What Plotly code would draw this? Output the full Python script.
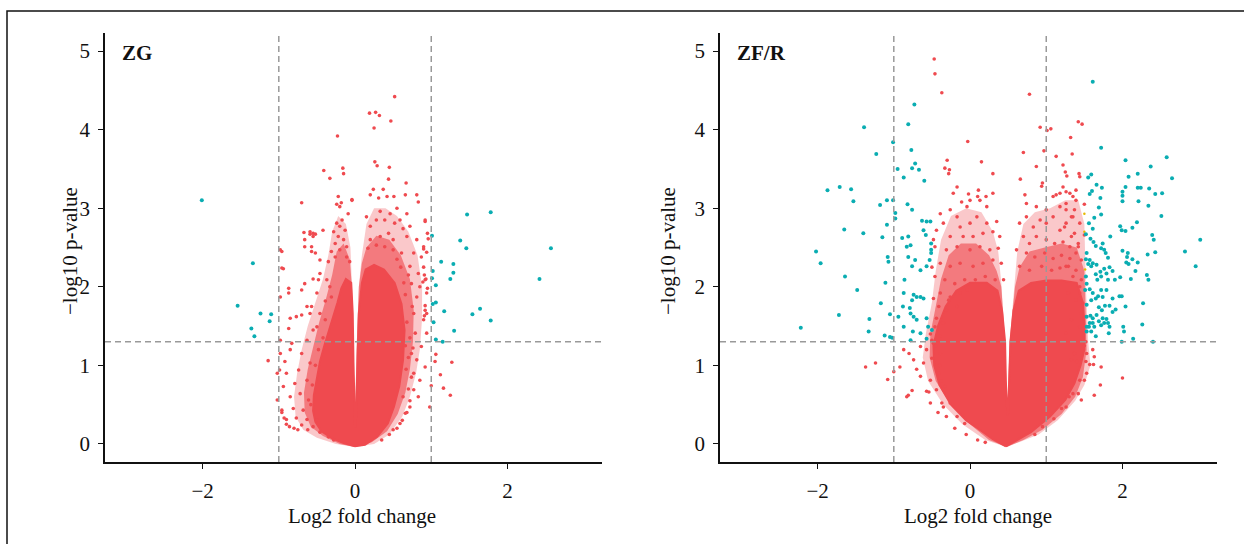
import plotly.graph_objects as go

# ---------------- data ----------------
# Solid centre of each cloud, outlined as a polygon (x = log2 FC, y = -log10 p)
ZG_core = [(0.00,-0.03),(-0.15,0.01),(-0.30,0.07),(-0.44,0.16),(-0.52,0.28),(-0.55,0.42),(-0.54,0.62),
           (-0.50,0.84),(-0.46,1.05),(-0.40,1.26),(-0.34,1.44),(-0.28,1.62),(-0.23,1.80),(-0.18,1.98),
           (-0.12,2.10),(-0.05,2.05),(-0.03,1.66),(-0.02,1.03),(-0.01,0.60),(0.00,0.22),(0.01,0.22),
           (0.02,0.60),(0.03,1.03),(0.05,1.66),(0.09,2.05),(0.14,2.22),(0.25,2.28),(0.38,2.22),(0.52,2.05),
           (0.61,1.78),(0.65,1.45),(0.63,1.07),(0.58,0.73),(0.51,0.47),(0.43,0.26),(0.29,0.09),(0.13,-0.01),
           (0.00,-0.03)]

# Dense-speckle zone around the centre
ZG_mid = [(0.00,-0.04),(-0.20,0.00),(-0.42,0.10),(-0.58,0.22),(-0.66,0.40),(-0.67,0.65),(-0.62,0.95),
          (-0.55,1.25),(-0.47,1.55),(-0.38,1.85),(-0.30,2.15),(-0.24,2.45),(-0.15,2.55),(-0.07,2.35),
          (-0.04,2.00),(-0.02,1.20),(0.00,0.30),(0.02,1.20),(0.05,2.00),(0.09,2.30),(0.15,2.50),(0.28,2.65),
          (0.45,2.60),(0.60,2.40),(0.72,2.10),(0.77,1.70),(0.76,1.30),(0.72,0.95),(0.66,0.65),(0.56,0.38),
          (0.42,0.16),(0.22,0.02),(0.00,-0.04)]

# Light-speckle zone
ZG_halo = [(0.00,-0.04),(-0.25,0.00),(-0.50,0.08),(-0.68,0.18),(-0.78,0.35),(-0.80,0.60),(-0.76,0.90),
           (-0.70,1.20),(-0.62,1.50),(-0.52,1.80),(-0.42,2.10),(-0.35,2.40),(-0.30,2.70),(-0.22,2.90),
           (-0.12,2.80),(-0.06,2.50),(-0.04,2.00),(-0.02,1.20),(0.00,0.30),(0.02,1.20),(0.05,2.00),
           (0.09,2.40),(0.15,2.80),(0.25,3.00),(0.40,3.00),(0.55,2.90),(0.70,2.70),(0.82,2.40),(0.88,2.00),
           (0.88,1.60),(0.85,1.20),(0.80,0.90),(0.72,0.60),(0.62,0.35),(0.45,0.12),(0.25,0.00),(0.00,-0.04)]

ZG_red = [(0.52,4.42),(0.19,4.21),(0.27,4.22),(0.32,4.18),(0.47,4.11),(0.25,4.02),(-0.23,3.92),(0.26,3.59),
          (0.29,3.54),(0.45,3.52),(-0.41,3.48),(-0.16,3.51),(-0.15,3.44),(-0.33,3.38),(0.44,3.37),(0.67,3.32),
          (-0.70,3.07),(-0.04,3.11),
          (0.20,3.17),(0.24,3.24),(0.31,3.13),(0.37,3.24),(0.42,3.15),(0.51,3.15),(0.55,3.00),(0.15,2.89),
          (0.20,2.77),(0.28,2.85),(0.33,2.96),(0.39,2.85),(0.46,2.93),(0.52,2.81),(0.59,2.85),(0.66,3.17),
          (0.68,2.93),(0.63,2.74),(0.72,2.77),(0.81,3.17),(0.83,3.08),(0.92,2.85),(0.44,2.68),(0.33,2.64),
          (0.20,2.60),(0.50,2.60),(0.68,2.64),(0.81,2.60),(0.90,2.51),(0.87,2.38),(0.77,2.43),(0.61,2.43),
          (0.50,2.47),(0.39,2.51),(0.28,2.53),(0.17,2.49),(0.72,2.26),(0.83,2.17),(0.92,2.09),(0.94,1.92),
          (0.92,1.70),(0.90,1.58),(0.94,1.41),(0.87,1.24),(0.81,1.07),(0.92,0.98),(0.85,0.81),(0.77,0.69),
          (0.83,0.60),(0.72,0.47),(0.66,0.39),(0.59,0.26),(0.50,0.18),(0.77,0.90),(0.74,1.15),(0.79,1.41),
          (0.77,1.66),(0.81,1.87),(0.74,2.04),(0.85,2.00),
          (0.92,2.83),(0.95,2.68),(0.96,2.61),(0.90,2.48),(0.94,2.44),(0.90,2.25),(0.91,2.15),(0.93,2.10),
          (0.89,2.06),(0.95,1.98),(0.92,1.76),(0.94,1.66),(0.91,1.63),
          (1.12,0.88),(1.00,0.74),(1.16,0.71),(0.98,0.47),(1.25,0.62),(1.05,1.05),(1.27,1.04),(1.06,1.14),
          (0.35,0.05),(0.45,0.12),(0.55,0.20),(0.62,0.30),(0.68,0.40),(0.72,0.55),(0.70,0.70),(0.74,0.85),
          (0.70,1.10),(0.76,1.22),(0.72,1.35),(0.68,1.55),(0.75,1.75),(0.66,1.90),(0.70,2.15),(0.60,2.25),
          (0.55,2.35),(0.64,2.05),(0.66,1.25),(0.67,0.95),(0.63,0.60),
          (-0.96,2.45),(-0.94,2.23),(-0.98,1.87),(-0.87,1.98),(-0.87,1.92),(-0.70,1.96),(-0.66,2.04),
          (-0.55,2.10),(-0.48,2.09),(-0.66,2.51),(-0.59,2.67),(-0.52,2.67),(-0.42,2.72),(-0.57,2.45),
          (-0.85,1.60),(-0.77,1.62),(-0.70,1.64),(-0.87,1.47),(-0.63,1.75),(-0.57,1.75),
          (-0.98,1.32),(-0.83,1.28),(-0.85,1.20),(-0.98,1.15),(-0.92,1.05),(-1.02,0.90),(-0.90,0.90),
          (-0.74,0.94),(-0.94,0.73),(-0.79,0.77),(-1.02,0.56),(-0.85,0.60),(-0.72,0.64),(-0.96,0.43),
          (-0.81,0.45),(-0.90,0.31),(-0.77,0.33),(-0.63,0.31),(-0.68,0.43),(-0.61,0.56),(-0.63,0.81),
          (-0.59,1.03),(-0.70,1.15),(-0.63,1.32),(-0.55,1.45),
          (-0.99,0.94),(-0.96,0.40),(-0.93,0.33),(-0.90,0.25),(-0.86,0.22),(-0.80,0.20),(-0.75,0.18),
          (-0.55,0.22),(-0.46,0.15),(-0.35,0.09),(-0.28,0.05),(-0.62,0.18),(-0.70,0.24),
          (-1.14,1.06),(-0.59,2.70),(-0.55,2.68),(-0.67,2.69),(-0.96,2.24),(-0.98,2.47),
          (-0.22,3.15),(-0.18,3.07),(-0.24,3.05),(-0.20,3.02),(-0.04,3.10),(-0.09,2.93),(-0.17,2.85),
          (-0.24,2.81),(-0.20,2.77),(-0.28,2.70),(-0.13,2.72),(-0.22,2.64),(-0.26,2.55),(-0.15,2.60),
          (-0.11,2.51),(-0.20,2.47),(-0.31,2.45),(-0.55,2.64),(-0.57,2.51),(-0.66,2.60),(-0.52,2.43),
          (-0.46,2.34),(-0.35,2.32),(-0.26,2.38),(-0.11,2.38),(-0.07,2.32),
          (-0.46,2.17),(-0.37,2.09),(-0.50,1.92),(-0.39,1.82),(-0.33,2.00),(-0.59,1.66),(-0.46,1.66),
          (-0.50,1.49),(-0.39,1.58),(-0.31,1.87),(-0.42,1.35),(-0.48,1.20),(-0.52,1.00),(-0.56,0.75),
          (-0.58,0.50),(-0.50,0.30)]

ZG_teal = [(-2.01,3.10),(-1.34,2.30),(-1.54,1.76),(-1.24,1.66),(-1.10,1.65),(-1.12,1.56),(-1.36,1.47),
           (-1.32,1.37),(1.47,2.92),(1.78,2.95),(1.38,2.59),(1.46,2.49),(2.57,2.49),(1.01,2.65),(1.13,2.32),
           (1.29,2.29),(1.29,2.18),(1.25,2.10),(2.42,2.10),(1.02,2.20),(1.01,2.11),(1.06,2.02),(1.06,1.80),
           (1.02,1.78),(1.17,1.69),(1.64,1.72),(1.54,1.65),(1.78,1.57),(1.03,1.55),(1.30,1.44),(1.06,1.33),
           (1.15,1.30)]

ZFR_core = [(0.47,-0.03),(0.30,0.06),(0.10,0.20),(-0.05,0.30),(-0.25,0.50),(-0.40,0.75),(-0.47,1.00),
            (-0.48,1.25),(-0.42,1.50),(-0.32,1.75),(-0.18,1.95),(0.00,2.05),(0.22,2.05),(0.36,1.95),
            (0.42,1.70),(0.46,1.30),(0.47,0.80),(0.48,0.40),(0.49,0.36),(0.50,0.40),(0.51,0.80),(0.53,1.30),
            (0.57,1.70),(0.64,1.95),(0.80,2.05),(1.00,2.08),(1.20,2.08),(1.40,2.05),(1.48,1.80),(1.50,1.50),
            (1.50,1.20),(1.45,1.00),(1.37,0.77),(1.25,0.56),(1.05,0.35),(0.80,0.15),(0.60,0.04),(0.47,-0.03)]

ZFR_mid = [(0.48,-0.04),(0.25,0.05),(0.00,0.25),(-0.25,0.50),(-0.45,0.80),(-0.53,1.10),(-0.52,1.40),
           (-0.45,1.75),(-0.38,2.10),(-0.28,2.40),(-0.12,2.55),(0.08,2.55),(0.25,2.40),(0.35,2.20),
           (0.41,2.00),(0.46,1.30),(0.49,0.40),(0.52,1.30),(0.59,2.00),(0.65,2.25),(0.78,2.45),(0.98,2.50),
           (1.20,2.55),(1.40,2.50),(1.50,2.20),(1.52,1.60),(1.53,1.20),(1.48,0.85),(1.38,0.60),(1.20,0.38),
           (0.95,0.18),(0.70,0.05),(0.48,-0.04)]

ZFR_halo = [(0.48,-0.04),(0.20,0.05),(-0.10,0.25),(-0.35,0.50),(-0.55,0.80),(-0.62,1.10),(-0.58,1.40),
            (-0.50,1.80),(-0.45,2.20),(-0.38,2.60),(-0.25,2.90),(-0.05,3.00),(0.15,2.95),(0.30,2.70),
            (0.37,2.45),(0.41,2.05),(0.46,1.30),(0.49,0.40),(0.52,1.30),(0.59,2.05),(0.62,2.45),(0.70,2.80),
            (0.85,2.95),(1.05,3.00),(1.25,3.10),(1.42,3.10),(1.50,2.80),(1.52,2.00),(1.55,1.30),(1.58,1.00),
            (1.50,0.75),(1.38,0.55),(1.15,0.30),(0.90,0.12),(0.65,0.02),(0.48,-0.04)]

ZFR_red = [(-0.47,4.90),(-0.46,4.71),(-0.37,4.47),(0.78,4.45),(1.42,4.10),(1.47,4.07),(0.92,4.03),(1.01,3.99),
           (1.06,4.01),(-0.03,3.85),(1.32,3.90),(0.97,3.73),(0.70,3.71),(-0.30,3.61),(-0.33,3.51),(-0.28,3.44),
           (-0.27,3.49),(0.15,3.59),(0.87,3.53),(1.13,3.66),(1.22,3.55),(1.25,3.46),(1.43,3.44),(1.27,3.41),
           (0.30,3.44),(0.66,3.37),(0.95,3.32),(0.94,3.28),(0.30,3.19),(0.21,3.15),(0.11,3.23),(0.10,3.15),
           (-0.02,3.18),(0.00,3.10),(-0.17,3.27),(-0.22,3.19),(-0.11,3.08),(0.72,3.17),(1.09,3.15),(1.13,3.17),
           (1.18,3.19),(1.26,3.21),(1.35,3.15),(1.44,3.40),(1.39,3.23),(1.34,3.69),(1.50,3.05),(1.50,2.66),
           (-0.39,2.93),(-0.26,2.98),(-0.17,2.89),(-0.04,3.02),(0.13,3.10),(0.22,3.02),(-0.35,2.81),(-0.13,2.76),
           (0.00,2.81),(0.09,2.89),(0.22,2.81),(0.35,2.83),(-0.44,2.72),(-0.26,2.64),(-0.09,2.64),(0.04,2.64),
           (0.17,2.68),(0.30,2.70),(0.39,2.64),(-0.46,2.51),(-0.31,2.47),(-0.17,2.51),(0.00,2.47),(0.13,2.51),
           (0.26,2.47),(0.37,2.49),(-0.39,2.30),(-0.26,2.26),(-0.13,2.30),(0.04,2.26),(0.17,2.30),(0.30,2.34),
           (0.41,2.30),(-0.46,2.13),(-0.33,2.09),(-0.20,2.04),(-0.07,2.09),(0.07,2.09),(0.20,2.13),(0.33,2.09),
           (0.44,2.09),(-0.39,1.92),(-0.26,1.87),(-0.13,1.92),(-0.41,1.75),(-0.31,1.70),(-0.35,1.54),(-0.46,1.49),
           (-0.39,1.37),(-0.50,1.32),(-0.28,1.83),(-0.17,1.75),(-0.04,1.96),
           (-0.50,2.25),(-0.48,2.60),(-0.44,1.60),(-0.52,1.40),(-0.48,1.85),
           (0.65,2.81),(0.74,2.89),(0.83,2.76),(0.92,2.85),(1.00,2.81),(1.09,2.89),(1.18,2.72),(1.26,2.81),
           (1.35,2.89),(0.70,2.64),(0.78,2.55),(0.87,2.64),(1.00,2.60),(1.11,2.55),(1.22,2.57),(1.33,2.64),
           (1.42,2.55),(0.61,2.47),(0.74,2.43),(0.85,2.38),(0.98,2.43),(1.09,2.36),(1.20,2.40),(1.31,2.36),
           (1.39,2.43),(0.65,2.26),(0.78,2.21),(0.94,2.26),(1.07,2.21),(1.18,2.24),(1.29,2.26),(1.39,2.21),
           (1.46,2.09),(1.44,1.92),(1.48,1.79),(1.50,1.62),(0.74,3.06),(0.87,3.02),(1.00,2.98),(1.18,3.02),
           (1.26,2.98),(1.39,3.10),
           (1.22,3.27),(1.31,3.19),(1.26,3.06),(1.37,2.98),(1.33,2.89),(1.24,2.76),(1.44,2.81),(1.37,2.68),
           (1.31,2.51),(1.42,2.51),(1.46,2.34),(1.26,2.26),(1.35,2.13),(1.44,2.00),(1.29,1.92),(1.39,1.83),
           (1.46,1.66),(1.33,1.58),(1.44,1.49),(1.26,1.41),
           (-1.24,1.03),(-1.37,0.98),(-1.08,0.82),(-1.00,0.92),(-0.81,0.62),(-0.76,0.68),(-0.57,0.67),
           (-0.54,0.66),(-0.37,0.52),(-0.07,0.26),
           (-0.65,1.24),(-0.57,1.20),(-0.48,1.28),(-0.74,1.07),(-0.61,1.03),(-0.50,1.09),(-0.39,1.15),
           (-0.65,0.86),(-0.52,0.81),(-0.41,0.90),(-0.44,0.69),(-0.33,0.73),(-0.52,0.52),(-0.35,0.47),
           (-0.26,0.52),(-0.17,0.35),(-0.31,0.35),(-0.83,0.60),(-0.92,0.98),(-0.87,1.20),
           (-0.20,0.20),(-0.05,0.12),(0.10,0.05),(0.20,0.02),(-0.42,0.40),(-0.40,1.00),(-0.38,0.80),
           (-0.45,1.25),(-0.70,0.95),(-0.80,1.15),
           (1.53,1.15),(1.61,1.20),(1.63,1.11),(1.72,0.98),(1.57,1.01),(1.62,1.01),(1.53,0.90),(1.44,0.81),
           (1.50,0.81),(1.42,0.64),(1.46,0.56),(1.63,0.62),(1.71,0.75),(2.00,0.84),(1.33,1.07),(1.35,0.64),
           (1.26,0.47),(1.37,1.15),(1.50,1.25),(1.52,1.05),(1.40,1.05),(1.20,0.45),(1.10,0.32),(0.95,0.22),
           (0.85,0.12),(1.30,0.60),(1.52,1.30)]

ZFR_teal = [(-1.39,4.03),(-1.01,3.84),(-1.23,3.69),(-0.95,3.50),(-1.87,3.23),(-1.71,3.27),(-1.56,3.24),
            (-1.53,3.09),(-1.18,3.04),(-1.09,3.10),(-1.01,3.10),(-0.98,2.94),(-0.98,2.87),(-1.65,2.73),
            (-1.40,2.68),(-1.09,2.79),(-1.15,2.63),(-2.02,2.45),(-1.96,2.30),(-1.08,2.38),(-1.07,2.32),
            (-1.64,2.13),(-1.48,1.96),(-1.11,2.05),(-1.17,1.79),(-1.72,1.64),(-1.32,1.59),(-1.05,1.65),
            (-0.94,1.62),(-2.22,1.48),(-1.33,1.43),(-1.12,1.38),(-1.05,1.36),(-1.02,1.35),
            (-0.73,4.32),(-0.81,4.07),(-0.77,3.74),(-0.72,3.57),(-0.76,3.51),(-0.67,3.49),(-0.87,3.39),
            (-0.60,3.35),(-0.82,3.05),(-0.76,2.98),(-0.63,2.84),(-0.57,2.83),(-0.52,2.83),(-0.89,2.62),
            (-0.81,2.64),(-0.83,2.51),(-0.78,2.53),(-0.61,2.72),(-0.58,2.66),(-0.51,2.55),(-0.51,2.47),
            (-0.51,2.43),(-0.81,2.38),(-0.72,2.34),(-0.76,2.26),(-0.65,2.21),(-0.57,2.26),(-0.53,2.34),
            (-0.86,2.09),(-0.87,1.92),(-0.74,1.90),(-0.70,1.87),(-0.65,1.87),(-0.76,1.83),(-0.61,1.85),
            (-0.88,1.75),(-0.79,1.73),(-0.78,1.66),(-0.74,1.62),(-0.70,1.58),(-0.57,1.60),(-0.55,1.49),
            (-0.50,1.45),(-0.87,1.49),(-0.75,1.43),(-0.65,1.41),(-0.78,1.32),(-0.57,1.34),
            (1.61,4.61),(3.45,4.14),(3.47,3.10),(1.72,3.77),(2.58,3.65),(2.04,3.61),(2.37,3.53),(2.20,3.44),
            (2.08,3.40),(2.65,3.38),(1.55,3.39),(1.59,3.43),(1.66,3.30),(1.73,3.26),(1.57,3.18),(1.60,3.22),
            (2.04,3.27),(2.00,3.21),(2.00,3.16),(2.20,3.26),(2.24,3.26),(2.35,3.25),(2.43,3.18),(2.52,3.19),
            (1.71,3.13),(2.21,3.09),(2.34,3.03),(2.00,3.09),(1.69,3.01),(1.72,2.92),(1.63,2.88),(1.56,2.81),
            (1.61,2.74),(2.51,2.90),(1.97,2.77),(2.04,2.71),(2.13,2.75),(2.19,2.82),(1.84,2.64),(2.39,2.66),
            (3.02,2.60),(1.52,2.67),(1.58,2.61),(1.62,2.57),(1.65,2.52),(1.72,2.49),(1.76,2.47),(1.74,2.55),
            (1.78,2.43),(1.81,2.37),(2.00,2.46),(2.07,2.43),(2.13,2.35),(2.05,2.31),(2.08,2.29),(2.20,2.31),
            (2.43,2.44),(2.33,2.41),(2.82,2.45),(2.96,2.26),(2.17,2.20),(2.32,2.15),(2.11,2.10),(1.97,2.12),
            (1.53,2.43),(1.57,2.34),(1.52,2.35),(1.55,2.29),(1.59,2.26),(1.61,2.30),(1.66,2.28),(1.71,2.19),
            (1.76,2.23),(1.79,2.17),(1.83,2.25),(1.72,2.13),(1.81,2.09),(1.87,2.20),(1.90,2.09),(1.65,2.16),
            (1.67,2.09),(1.52,2.13),(1.53,2.04),(1.51,1.96),(1.57,1.97),(1.61,1.92),(1.59,1.83),(1.65,1.85),
            (1.68,1.88),(1.74,1.87),(1.79,1.96),(1.72,1.96),(1.87,1.85),(1.96,1.88),(1.99,1.88),(2.27,1.79),
            (2.04,1.75),(1.91,1.71),(1.87,1.68),(1.83,1.76),(1.77,1.76),(1.73,1.70),(1.69,1.74),(1.53,1.77),
            (1.53,1.62),(1.58,1.63),(1.61,1.60),(1.66,1.64),(1.57,1.54),(1.61,1.54),(1.56,1.49),(1.63,1.49),
            (1.69,1.56),(1.72,1.51),(1.76,1.54),(1.81,1.54),(1.79,1.59),(1.74,1.60),(1.83,1.49),(1.82,1.41),
            (1.65,1.37),(1.59,1.43),(1.53,1.43),(1.53,1.49),(2.01,1.49),(2.26,1.52),(2.14,1.34),(1.99,1.30),
            (2.40,1.30),(2.02,1.43),(2.41,2.60),(2.34,2.09),(2.06,2.38),(1.99,2.72)]

ZFR_orange = [(1.50,2.93),(1.50,2.70),(1.51,2.22)]

panel_titles = ["ZG", "ZF/R"]
x_ticks = [-2, 0, 2]
y_ticks = [0, 1, 2, 3, 4, 5]
fc_cut = [-1, 1]
p_cut = 1.301  # -log10(0.05)

# ---------------- styling ----------------
RED = "#EF4A4F"
RED_HALO = "rgba(239,74,79,0.30)"
RED_MID = "rgba(239,74,79,0.62)"
TEAL = "#0AADB2"
ORANGE = "#E7B800"
FONT = "Liberation Serif, Times New Roman, serif"
W, H = 1244, 544

def unzip(pts):
    return [p[0] for p in pts], [p[1] for p in pts]

fig = go.Figure()

panels = [
    ("x", "y", ZG_halo, ZG_mid, ZG_core, ZG_red, ZG_teal, []),
    ("x2", "y2", ZFR_halo, ZFR_mid, ZFR_core, ZFR_red, ZFR_teal, ZFR_orange),
]
for xa, ya, halo, mid, core, red, teal, orange in panels:
    for poly, col in [(halo, RED_HALO), (mid, RED_MID)]:
        px_, py_ = unzip(poly)
        fig.add_trace(go.Scatter(x=px_, y=py_, xaxis=xa, yaxis=ya, mode="lines", fill="toself",
                                 fillcolor=col, line=dict(width=0), hoverinfo="skip"))
    cx, cy = unzip(core)
    fig.add_trace(go.Scatter(x=cx, y=cy, xaxis=xa, yaxis=ya, mode="lines", fill="toself",
                             fillcolor=RED, line=dict(color=RED, width=2), hoverinfo="skip"))
    rx, ry = unzip(red)
    fig.add_trace(go.Scatter(x=rx, y=ry, xaxis=xa, yaxis=ya, mode="markers",
                             marker=dict(color=RED, size=3.6, line=dict(width=0)), cliponaxis=False))
    if orange:
        ox, oy = unzip(orange)
        fig.add_trace(go.Scatter(x=ox, y=oy, xaxis=xa, yaxis=ya, mode="markers",
                                 marker=dict(color=ORANGE, size=2.5, line=dict(width=0)), cliponaxis=False))
    tx, ty = unzip(teal)
    fig.add_trace(go.Scatter(x=tx, y=ty, xaxis=xa, yaxis=ya, mode="markers",
                             marker=dict(color=TEAL, size=4, line=dict(width=0)), cliponaxis=False))

y_dom = [1 - 462 / H, 1 - 33 / H]
axis_common = dict(showline=True, linecolor="#111", linewidth=1.6, ticks="outside", ticklen=5,
                   tickwidth=1.4, tickcolor="#111", showgrid=False, zeroline=False,
                   tickfont=dict(family=FONT, size=21, color="#111"), ticklabelstandoff=4)
fig.update_layout(
    width=W, height=H, margin=dict(l=0, r=0, t=0, b=0),
    paper_bgcolor="white", plot_bgcolor="white", showlegend=False,
    xaxis=dict(domain=[105 / W, 602 / W], range=[-3.28, 3.24], tickvals=x_ticks, anchor="y", **axis_common),
    yaxis=dict(domain=y_dom, range=[-0.23, 5.23], tickvals=y_ticks, anchor="x", **axis_common),
    xaxis2=dict(domain=[720 / W, 1217 / W], range=[-3.28, 3.24], tickvals=x_ticks, anchor="y2", **axis_common),
    yaxis2=dict(domain=y_dom, range=[-0.23, 5.23], tickvals=y_ticks, anchor="x2", **axis_common),
)

shapes = []
for xa, ya in [("x", "y"), ("x2", "y2")]:
    for v in fc_cut:
        shapes.append(dict(type="line", xref=xa, yref=ya + " domain", x0=v, x1=v, y0=0, y1=1,
                           line=dict(color="#999999", width=1.5, dash="6px,4px")))
    shapes.append(dict(type="line", xref=xa + " domain", yref=ya, x0=0, x1=1, y0=p_cut, y1=p_cut,
                       line=dict(color="#999999", width=1.5, dash="6px,4px")))
# outer frame
shapes.append(dict(type="rect", xref="paper", yref="paper", x0=7 / W, x1=1.05, y0=-0.05, y1=1 - 11 / H,
                   line=dict(color="#111", width=1.5), fillcolor="rgba(0,0,0,0)", layer="below"))
fig.update_layout(shapes=shapes)

ann = []
for (xa, ya), title in zip([("x", "y"), ("x2", "y2")], panel_titles):
    ann.append(dict(text="<b>" + title + "</b>", xref=xa + " domain", yref=ya, x=0.03, y=4.97,
                    xanchor="left", yanchor="middle", showarrow=False,
                    font=dict(family=FONT, size=21, color="#111")))
for xc in [362, 978]:
    ann.append(dict(text="Log2 fold change", xref="paper", yref="paper", x=xc / W, y=1 - 516 / H,
                    xanchor="center", yanchor="middle", showarrow=False,
                    font=dict(family=FONT, size=21, color="#111")))
for xc in [70, 668]:
    ann.append(dict(text="\u2212log10 p-value", xref="paper", yref="paper", x=xc / W, y=1 - 251 / H,
                    xanchor="center", yanchor="middle", textangle=-90, showarrow=False,
                    font=dict(family=FONT, size=21, color="#111")))
fig.update_layout(annotations=ann)

fig.write_html("out.html")
